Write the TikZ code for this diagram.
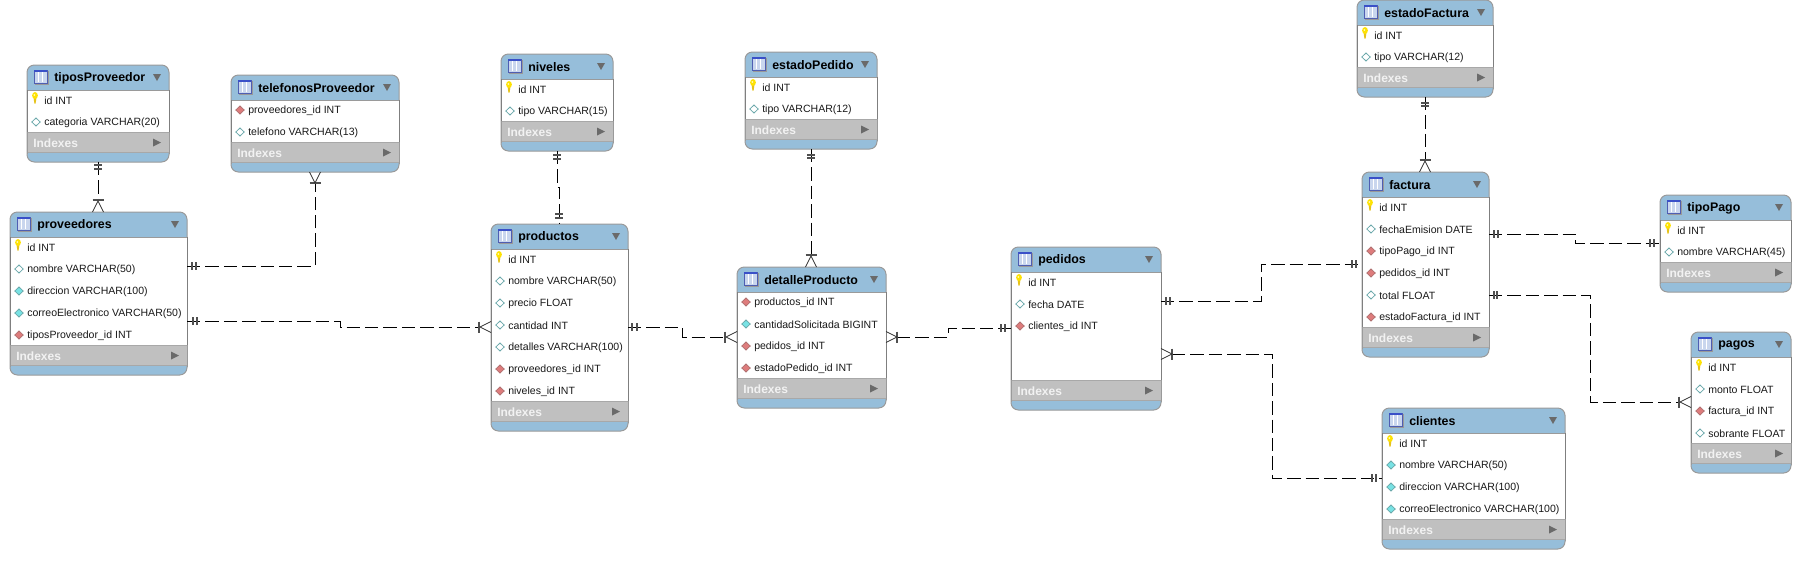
\documentclass[tikz,border=0pt]{standalone}
\usepackage{fontspec}
\setmainfont{Liberation Sans}
\usetikzlibrary{calc}
\definecolor{hdr}{HTML}{96BEDA}
\definecolor{frameg}{HTML}{9A9A9A}
\definecolor{sideg}{HTML}{7F7F7F}
\definecolor{idxg}{HTML}{C0C0C0}
\definecolor{idxl}{HTML}{A8A8A8}
\definecolor{triag}{HTML}{6A6A6A}
\definecolor{tickg}{HTML}{505050}
\definecolor{cyandia}{HTML}{78E2E4}
\definecolor{cyanedge}{HTML}{6AA8AA}
\definecolor{reddia}{HTML}{DE7C7C}
\definecolor{rededge}{HTML}{B07070}
\definecolor{iconfill}{HTML}{C9D6EE}
\definecolor{iconedge}{HTML}{3A50C8}
\tikzset{
  tablebox/.style={rectangle,rounded corners=5.5pt,draw=frameg,line width=.75pt,fill=hdr,inner sep=0pt,outer sep=0pt,anchor=north west},
  titletext/.style={anchor=west,inner sep=0pt,font=\fontsize{9.3}{11}\selectfont\bfseries,text=black},
  rowtext/.style={anchor=west,inner sep=0pt,font=\fontsize{7.9}{10}\selectfont,text=black!90},
  idxtext/.style={anchor=west,inner sep=0pt,font=\fontsize{9}{11}\selectfont\bfseries,text=white!95!black},
  conn/.style={line width=.72pt,black,dash pattern=on 10pt off 3.8pt},
  tickmark/.style={line width=.8pt,tickg},
  crowmark/.style={line width=.6pt,black!80},
  crowstart/.style={shorten <=8.25pt},
  crowend/.style={shorten >=8.25pt}
}
\newcommand{\rowiconk}[1]{%
  \fill[yellow!70!orange!90!black] (6.6,#1-3) -- (9.4,#1-3) -- (8.6,#1+2.5) -- (7.4,#1+2.5) -- cycle;
  \fill[yellow!85!orange] (8,#1-5.5) ellipse[x radius=2.9,y radius=3.4];
  \fill[yellow!30!white] (7.4,#1-6) circle[radius=1];}
\newcommand{\rowiconh}[1]{\filldraw[fill=white,draw=cyanedge,line width=.6pt] (9,#1-5)--(13.2,#1-1)--(9,#1+3)--(4.8,#1-1)--cycle;}
\newcommand{\rowiconc}[1]{\filldraw[fill=cyandia,draw=cyanedge,line width=.6pt] (9,#1-5)--(13.2,#1-1)--(9,#1+3)--(4.8,#1-1)--cycle;}
\newcommand{\rowiconr}[1]{\filldraw[fill=reddia,draw=rededge,line width=.6pt] (9,#1-5)--(13.2,#1-1)--(9,#1+3)--(4.8,#1-1)--cycle;}
% name, x1, y1, x2, rows, title, list of kind/text
\newcommand{\dbtable}[7]{%
  \pgfmathsetmacro{\tw}{#4-#2}
  \pgfmathsetmacro{\th}{22*#5+53}
  \begin{scope}[shift={(#2,#3)}]
    \node[tablebox,minimum width=\tw*.75pt,minimum height=\th*.75pt] (#1) at (0,0) {};
    \fill[white] (0,25) rectangle (\tw,{25+22*#5-2});
    \fill[idxg] (0,{25+22*#5-2}) rectangle (\tw,{25+22*#5+19});
    \draw[idxl,line width=.75pt] (0,{25+22*#5+18.5}) -- (\tw,{25+22*#5+18.5});
    \draw[frameg,line width=.75pt] (0,25) -- (\tw,25);
    \draw[idxl,line width=.75pt] (0,{25+22*#5-2}) -- (\tw,{25+22*#5-2});
    \draw[sideg,line width=.75pt] (0,25) -- (0,{25+22*#5-2}) (\tw,{25+22*#5-2}) -- (\tw,25);
    \draw[frameg,line width=.75pt] (0,{25+22*#5-2}) -- (0,{22*#5+45}) (\tw,{25+22*#5-2}) -- (\tw,{22*#5+45});
    \filldraw[fill=iconfill,draw=iconedge!70!gray,line width=.5pt] (7,5) rectangle (20,18);
    \fill[iconedge] (7,4.5) rectangle (20,6.5);
    \draw[white,line width=.35pt] (11,7)--(11,17) (15.5,7)--(15.5,17);
    \draw[gray!80,line width=.6pt] (8,19)--(21,19)--(21,6);
    \node[titletext] (#1-title) at (27,13.5) {#6};
    \fill[triag] ({\tw-16},9) -- ({\tw-8},9) -- ({\tw-12},16) -- cycle;
    \foreach \kind/\rowtxt [count=\ri] in {#7} {
      \pgfmathsetmacro{\ry}{36+22*(\ri-1)}
      \csname rowicon\kind\endcsname{\ry}
      \node[rowtext] (#1-row\ri) at (17,\ry) {\rowtxt};
    }
    \node[idxtext] (#1-idx) at (6,{25+22*#5+9}) {Indexes};
    \fill[triag] ({\tw-16},{25+22*#5+4.5}) -- ({\tw-8},{25+22*#5+8.5}) -- ({\tw-16},{25+22*#5+12.5}) -- cycle;
  \end{scope}%
}
\newcommand{\tickV}[2]{\draw[tickmark] (#1,#2-4) -- (#1,#2+4);}
\newcommand{\tickH}[2]{\draw[tickmark] (#1-4,#2) -- (#1+4,#2);}
\newcommand{\barV}[2]{\draw[tickmark] (#1,#2-5.5) -- (#1,#2+5.5);}
\newcommand{\barH}[2]{\draw[tickmark] (#1-5.5,#2) -- (#1+5.5,#2);}
\newcommand{\crowE}[2]{\draw[crowmark] (#1,#2-5.5) -- (#1-11,#2) -- (#1,#2+5.5);}
\newcommand{\crowW}[2]{\draw[crowmark] (#1,#2-5.5) -- (#1+11,#2) -- (#1,#2+5.5);}
\newcommand{\crowS}[2]{\draw[crowmark] (#1-5.5,#2) -- (#1,#2-11) -- (#1+5.5,#2);}
\newcommand{\crowN}[2]{\draw[crowmark] (#1-5.5,#2) -- (#1,#2+11) -- (#1+5.5,#2);}
\begin{document}
\begin{tikzpicture}[x=.75pt,y=-.75pt]
\useasboundingbox (0,0) rectangle (1800,568);
\fill[white] (0,0) rectangle (1800,568);
\dbtable{tiposProveedor}{27}{65}{169}{2}{tiposProveedor}{k/id INT,h/categoria VARCHAR(20)}
\dbtable{proveedores}{10}{212}{187}{5}{proveedores}{k/id INT,h/nombre VARCHAR(50),c/direccion VARCHAR(100),c/correoElectronico VARCHAR(50),r/tiposProveedor\_id INT}
\dbtable{telefonosProveedor}{231}{75}{399}{2}{telefonosProveedor}{r/proveedores\_id INT,h/telefono VARCHAR(13)}
\dbtable{niveles}{501}{54}{613}{2}{niveles}{k/id INT,h/tipo VARCHAR(15)}
\dbtable{productos}{491}{224}{628}{7}{productos}{k/id INT,h/nombre VARCHAR(50),h/precio FLOAT,h/cantidad INT,h/detalles VARCHAR(100),r/proveedores\_id INT,r/niveles\_id INT}
\dbtable{estadoPedido}{745}{52}{877}{2}{estadoPedido}{k/id INT,h/tipo VARCHAR(12)}
\dbtable{detalleProducto}{737}{267}{886}{4}{detalleProducto}{r/productos\_id INT,c/cantidadSolicitada BIGINT,r/pedidos\_id INT,r/estadoPedido\_id INT}
\dbtable{pedidos}{1011}{247}{1161}{5}{pedidos}{k/id INT,h/fecha DATE,r/clientes\_id INT}
\dbtable{clientes}{1382}{408}{1565}{4}{clientes}{k/id INT,c/nombre VARCHAR(50),c/direccion VARCHAR(100),c/correoElectronico VARCHAR(100)}
\dbtable{estadoFactura}{1357}{0}{1493}{2}{estadoFactura}{k/id INT,h/tipo VARCHAR(12)}
\dbtable{factura}{1362}{172}{1489}{6}{factura}{k/id INT,h/fechaEmision DATE,r/tipoPago\_id INT,r/pedidos\_id INT,h/total FLOAT,r/estadoFactura\_id INT}
\dbtable{tipoPago}{1660}{195}{1791}{2}{tipoPago}{k/id INT,h/nombre VARCHAR(45)}
\dbtable{pagos}{1691}{332}{1791}{4}{pagos}{k/id INT,h/monto FLOAT,r/factura\_id INT,h/sobrante FLOAT}
% connectors
\draw[conn,crowend] ($(tiposProveedor.south west)+(71,0)$) -- ($(proveedores.north west)+(88,0)$);
\draw[conn,crowend] ($(proveedores.north east)+(0,54)$) -| ($(telefonosProveedor.south west)+(84,0)$);
\draw[conn,crowend] ($(proveedores.north east)+(0,109)$) -- ++(153,0) -- ++(0,6) -- ($(productos.north west)+(0,103)$);
\draw[conn] ($(niveles.south west)+(56,0)$) -- ++(0,36) -- ++(2,0) -- ($(productos.north west)+(68,0)$);
\draw[conn,crowend] ($(estadoPedido.south west)+(66,0)$) -- ($(detalleProducto.north west)+(74,0)$);
\draw[conn,crowend] ($(productos.north east)+(0,103)$) -- ++(54,0) -- ++(0,10) -- ($(detalleProducto.north west)+(0,70)$);
\draw[conn,crowstart] ($(detalleProducto.north east)+(0,70)$) -- ++(62,0) -- ++(0,-9) -- ($(pedidos.north west)+(0,81)$);
\draw[conn] ($(pedidos.north east)+(0,54)$) -- ++(100,0) |- ($(factura.north west)+(0,92)$);
\draw[conn,crowstart] ($(pedidos.north east)+(0,107)$) -- ++(111,0) |- ($(clientes.north west)+(0,70)$);
\draw[conn,crowend] ($(estadoFactura.south west)+(68,0)$) -- ($(factura.north west)+(63,0)$);
\draw[conn] ($(factura.north east)+(0,62)$) -- ++(86,0) -- ++(0,9) -- ($(tipoPago.north west)+(0,48)$);
\draw[conn,crowend] ($(factura.north east)+(0,123)$) -- ++(101,0) |- ($(pagos.north west)+(0,70)$);
% end marks
\tickH{98}{165}\tickH{98}{169}\barH{98}{200}\crowS{98}{212}
\tickV{192}{266}\tickV{196}{266}\barH{315}{183}\crowN{315}{172}
\tickV{193}{321}\tickV{197}{321}\barV{479}{327}\crowE{491}{327}
\tickH{557}{155}\tickH{557}{159}\tickH{559}{214}\tickH{559}{218}
\tickH{811}{155}\tickH{811}{158}\barH{811}{255}\crowS{811}{267}
\tickV{632}{327}\tickV{637}{327}\barV{725}{337}\crowE{737}{337}
\barV{897}{337}\crowW{886}{337}\tickV{1001}{328}\tickV{1005}{328}
\tickV{1166}{301}\tickV{1170}{301}\tickV{1352}{264}\tickV{1356}{264}
\barV{1172}{354}\crowW{1161}{354}\tickV{1372}{478}\tickV{1376}{478}
\tickH{1425}{103}\tickH{1425}{106}\barH{1425}{160}\crowS{1425}{172}
\tickV{1494}{234}\tickV{1498}{234}\tickV{1650}{243}\tickV{1654}{243}
\tickV{1494}{295}\tickV{1497}{295}\barV{1679}{402}\crowE{1691}{402}
\end{tikzpicture}
\end{document}
